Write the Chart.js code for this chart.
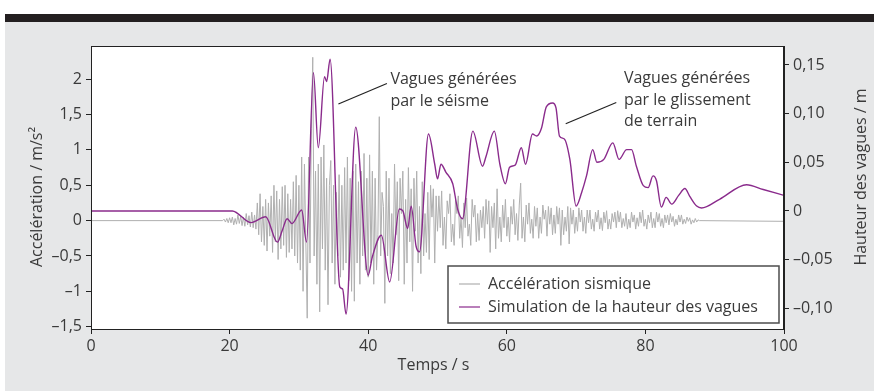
<!DOCTYPE html>
<html>
<head>
<meta charset="utf-8">
<script src="https://cdn.jsdelivr.net/npm/chart.js@4.4.1/dist/chart.umd.min.js"></script>
<style>
  html, body { margin: 0; padding: 0; background: #fff; }
  #wrap { position: relative; width: 874px; height: 391px; overflow: hidden; background: #fff; }
  #bar { position: absolute; left: 5px; top: 14px; right: 0; height: 8px; background: #231f20; }
  #panel { position: absolute; left: 5px; top: 22px; right: 0; bottom: 0; background: #e6e7e8; }
  #chart { position: absolute; left: 0; top: 0; }
</style>
</head>
<body>
<div id="wrap">
  <div id="panel"></div>
  <div id="bar"></div>
  <canvas id="chart" width="874" height="391"></canvas>
</div>
<script>
// seismic acceleration (m/s²), sampled every 0.2 s from t = 19 s
const accStart = 19;
const accStep = 0.2;
const accValues = [
  0, .02, -.02, .03, -.03,
  .04, -.03, .05, -.06, .03,
  -.05, .08, -.04, .06, -.07,
  .05, -.08, .1, -.06, .07,
  -.09, .12, -.1, .08, -.12,
  .25, -.2, .38, -.3, .2,
  -.35, .3, -.43, .25, -.22,
  .35, -.45, .5, -.3, .42,
  -.55, .3, -.4, .48, -.35,
  .5, -.52, .38, -.45, .3,
  -.4, .55, -.5, .64, -.6,
  .5, -.7, .9, -1.0, .8,
  -.3, -1.38, .9, -.6, 1.3,
  2.31, -.5, .7, -.9, .8,
  -1.29, .9, -.4, 1.07, -.7,
  .6, -1.19, .5, .85, -.6,
  .5, -.9, .4, -.5, .65,
  -.8, .5, -.7, .75, -.6,
  .9, -.85, .6, -1.0, .7,
  -1.14, .8, -.6, .55, -.9,
  .7, -.5, .95, -.7, .6,
  -.8, .93, -.6, .7, -.9,
  .6, -.7, -.2, 1.47, -.5,
  .4, .2, -1.17, .7, -.5,
  .6, -.75, .1, -.6, .8,
  -.2, .55, -.85, .6, .1,
  .7, -.9, .3, -.6, .75,
  -.3, .45, -1.0, .6, -.15,
  .7, -.6, .2, -.75, .55,
  -.5, .1, -.45, .4, -.55,
  .5, .05, .45, -.6, .35,
  -.15, .35, -.1, .42, -.35,
  .05, -.4, .28, .1, .38,
  -.3, -.05, -.35, .3, .1,
  .35, -.25, .05, -.38, .25,
  -.1, .32, -.22, -.05, -.35,
  .3, .05, .22, -.3, .1,
  -.28, .15, -.1, .2, -.25,
  .3, -.05, .28, -.45, .2,
  -.1, .25, -.4, .45, -.25,
  .05, -.3, .22, -.1, .3,
  -.22, .05, -.3, .2, -.05,
  .3, -.2, .1, -.28, .22,
  .53, -.25, .05, -.3, .22,
  -.05, .25, -.18, .02, -.25,
  .2, -.08, .18, -.25, .05,
  -.18, .22, .02, .15, -.22,
  .2, -.05, .18, -.2, .08,
  -.18, .2, -.05, .18, -.35,
  .15, -.2, .05, -.15, .2,
  -.33, .18, -.05, .15, -.18,
  .05, -.15, .18, -.02, .15,
  -.15, .05, -.18, .15, -.03,
  .15, -.12, .02, -.15, .12,
  -.02, .15, -.12, .04, -.14,
  .12, -.03, .14, -.12, .02,
  -.12, .1, -.02, .12, -.1,
  .14, -.02, .12, -.1, .03,
  -.08, .1, -.12, .02, -.1,
  .12, -.02, .08, -.12, .04,
  -.08, .12, -.03, .15, -.08,
  .02, -.12, .08, -.03, .12,
  -.1, .03, -.1, .12, -.02,
  .1, -.08, .03, -.1, .08,
  -.03, .08, -.06, .1, -.02,
  .06, -.08, .02, -.06, .08,
  -.02, .08, -.05, .02, -.04,
  .05, -.01, .04, -.05, .01,
  -.03, .03, -.02, .01, 0
];
// quiet record before and after the shaking
const accQuietTimes = [0, 100];
const accQuietValues = [0, -0.01];

// simulated wave height (m)
const waveTimes = [
  0, 20.4, 23.1, 25.2, 26.9, 27.6, 28.3, 29.0, 30.4, 31.1,
  32.1, 32.8, 33.7, 34.0, 34.5, 35.9, 36.3, 36.8, 38.2, 40.0,
  40.6, 41.9, 43.1, 44.5, 45.0, 45.7, 46.2, 46.9, 47.4, 48.7,
  49.6, 50.0, 50.5, 51.2, 52.2, 52.9, 53.6, 55.1, 56.5, 57.0,
  58.2, 59.0, 59.8, 60.4, 61.2, 62.1, 62.7, 63.7, 64.3, 65.0,
  65.7, 66.6, 67.1, 67.6, 68.3, 69.1, 70.0, 70.8, 71.5, 72.4,
  73.0, 74.0, 75.3, 76.2, 77.3, 78.0, 78.7, 79.7, 80.4, 81.1,
  81.6, 82.3, 83.0, 83.8, 84.8, 85.7, 86.4, 87.4, 88.1, 90.7,
  94.6, 97.0, 100
];
const waveHeights = [
  0, 0, -0.012, -0.006, -0.032, -0.02, -0.008, -0.013, 0.001, -0.032,
  0.142, 0.065, 0.138, 0.133, 0.156, -0.078, -0.08, -0.106, 0.086, -0.066,
  -0.047, -0.025, -0.073, 0.002, 0.0, -0.018, 0.005, -0.036, -0.042, 0.079,
  0.048, 0.033, 0.048, 0.04, 0.028, 0.002, -0.008, 0.082, 0.046, 0.056,
  0.082, 0.048, 0.028, 0.045, 0.047, 0.065, 0.048, 0.079, 0.077, 0.085,
  0.107, 0.111, 0.106, 0.077, 0.074, 0.053, 0.005, 0.019, 0.036, 0.063,
  0.05, 0.053, 0.07, 0.053, 0.063, 0.063, 0.046, 0.026, 0.024, 0.036,
  0.031, 0.004, 0.014, 0.007, 0.016, 0.023, 0.015, 0.005, 0.003, 0.012,
  0.027, 0.022, 0.016
];

const accTicks = [-1.5, -1, -0.5, 0, 0.5, 1, 1.5, 2];
const heightTicks = [-0.1, -0.05, 0, 0.05, 0.1, 0.15];
const heightTickLabels = ['–0,10', '–0,05', '0', '0,05', '0,10', '0,15'];
const timeTicks = [0, 20, 40, 60, 80, 100];

const seriesNames = ['Accélération sismique', 'Simulation de la hauteur des vagues'];
const noteTexts = [
  ['Vagues générées', 'par le séisme'],
  ['Vagues générées', 'par le glissement', 'de terrain']
];

const GREY = '#b0b0b0';
const PURPLE = '#8a2b8c';
const INK = '#3a3a3a';
const FONT = "'Open Sans', sans-serif";

Chart.defaults.font.family = FONT;
Chart.defaults.font.size = 16;
Chart.defaults.color = INK;

const accData = [{ x: accQuietTimes[0], y: accQuietValues[0] }];
accValues.forEach((v, i) => accData.push({ x: accStart + i * accStep, y: v }));
accData.push({ x: accQuietTimes[1], y: accQuietValues[1] });

const waveData = waveTimes.map((t, i) => ({ x: t, y: waveHeights[i] }));

const fmtAcc = v => (v < 0 ? '–' : '') + String(Math.abs(v)).replace('.', ',');

// annotation anchors in data units (time s, acceleration m/s²)
const notes = [
  { at: [43.2, 1.99], from: [35.7, 1.65], to: [42.7, 1.94] },
  { at: [76.9, 2.01], from: [68.5, 1.37], to: [75.8, 1.67] }
];

const overlay = {
  id: 'overlay',
  beforeDraw(chart) {
    const { ctx, chartArea: a } = chart;
    ctx.save();
    ctx.fillStyle = '#fff';
    ctx.fillRect(a.left, a.top, a.right - a.left, a.bottom - a.top);
    ctx.restore();
  },
  afterDraw(chart) {
    const { ctx, chartArea: a, scales } = chart;
    const sx = scales.x, sy = scales.y;
    ctx.save();

    // frame
    ctx.strokeStyle = '#222';
    ctx.lineWidth = 1;
    ctx.strokeRect(a.left + 0.5, a.top + 0.5, a.right - a.left - 1, a.bottom - a.top);

    // annotations
    ctx.font = '16px ' + FONT;
    ctx.fillStyle = INK;
    ctx.textAlign = 'left';
    ctx.textBaseline = 'middle';
    notes.forEach((n, k) => {
      ctx.strokeStyle = '#222';
      ctx.lineWidth = 1.2;
      ctx.beginPath();
      ctx.moveTo(sx.getPixelForValue(n.from[0]), sy.getPixelForValue(n.from[1]));
      ctx.lineTo(sx.getPixelForValue(n.to[0]), sy.getPixelForValue(n.to[1]));
      ctx.stroke();
      const tx = sx.getPixelForValue(n.at[0]);
      const ty = sy.getPixelForValue(n.at[1]);
      noteTexts[k].forEach((line, j) => ctx.fillText(line, tx, ty + j * 21.5));
    });

    // legend
    const lw = 331, lh = 57;
    const lx = a.right - 5 - lw, ly = a.bottom - 6 - lh;
    ctx.fillStyle = '#fff';
    ctx.fillRect(lx, ly, lw, lh);
    ctx.strokeStyle = '#4d4d4d';
    ctx.lineWidth = 1.5;
    ctx.strokeRect(lx, ly, lw, lh);
    [GREY, PURPLE].forEach((c, i) => {
      const y = ly + 18 + i * 23;
      ctx.strokeStyle = c;
      ctx.lineWidth = 1.2;
      ctx.beginPath();
      ctx.moveTo(lx + 11, y);
      ctx.lineTo(lx + 32, y);
      ctx.stroke();
      ctx.fillStyle = INK;
      ctx.fillText(seriesNames[i], lx + 40, y);
    });

    // axis titles
    ctx.fillStyle = INK;
    ctx.textAlign = 'center';
    ctx.fillText('Temps / s', (a.left + a.right) / 2 - 4, 365);
    ctx.save();
    ctx.translate(37, 197);
    ctx.rotate(-Math.PI / 2);
    ctx.fillText('Accélération / m/s²', 0, 0);
    ctx.restore();
    ctx.save();
    ctx.translate(861, 177);
    ctx.rotate(-Math.PI / 2);
    ctx.fillText('Hauteur des vagues / m', 0, 0);
    ctx.restore();

    ctx.restore();
  }
};

const axisGrid = { drawOnChartArea: false, drawTicks: true, tickLength: 5, color: '#222', lineWidth: 1 };
const axisBorder = { display: true, color: '#222', width: 1 };

new Chart(document.getElementById('chart'), {
  type: 'line',
  data: {
    datasets: [
      {
        label: seriesNames[0],
        data: accData,
        yAxisID: 'y',
        borderColor: GREY,
        borderWidth: 1,
        pointRadius: 0,
        tension: 0,
        order: 2
      },
      {
        label: seriesNames[1],
        data: waveData,
        yAxisID: 'y2',
        borderColor: PURPLE,
        borderWidth: 1.4,
        pointRadius: 0,
        cubicInterpolationMode: 'monotone',
        order: 1
      }
    ]
  },
  options: {
    responsive: false,
    animation: false,
    parsing: false,
    layout: { padding: { top: 46, left: 0, right: 0, bottom: 0 } },
    plugins: { legend: { display: false }, tooltip: { enabled: false } },
    scales: {
      x: {
        type: 'linear',
        min: 0,
        max: 100,
        afterBuildTicks: s => { s.ticks = timeTicks.map(v => ({ value: v })); },
        afterFit: s => { s.height = 62; },
        ticks: { padding: 3, maxRotation: 0 },
        grid: axisGrid,
        border: axisBorder
      },
      y: {
        type: 'linear',
        position: 'left',
        min: -1.533,
        max: 2.47,
        afterBuildTicks: s => { s.ticks = accTicks.map(v => ({ value: v })); },
        afterFit: s => { s.width = 91; },
        ticks: { padding: 4, callback: v => fmtAcc(v) },
        grid: axisGrid,
        border: axisBorder
      },
      y2: {
        type: 'linear',
        position: 'right',
        min: -0.1213,
        max: 0.1695,
        afterBuildTicks: s => { s.ticks = heightTicks.map(v => ({ value: v })); },
        afterFit: s => { s.width = 90; },
        ticks: { padding: 4, callback: (v, i) => heightTickLabels[i] },
        grid: axisGrid,
        border: axisBorder
      }
    }
  },
  plugins: [overlay]
});
</script>
</body>
</html>
